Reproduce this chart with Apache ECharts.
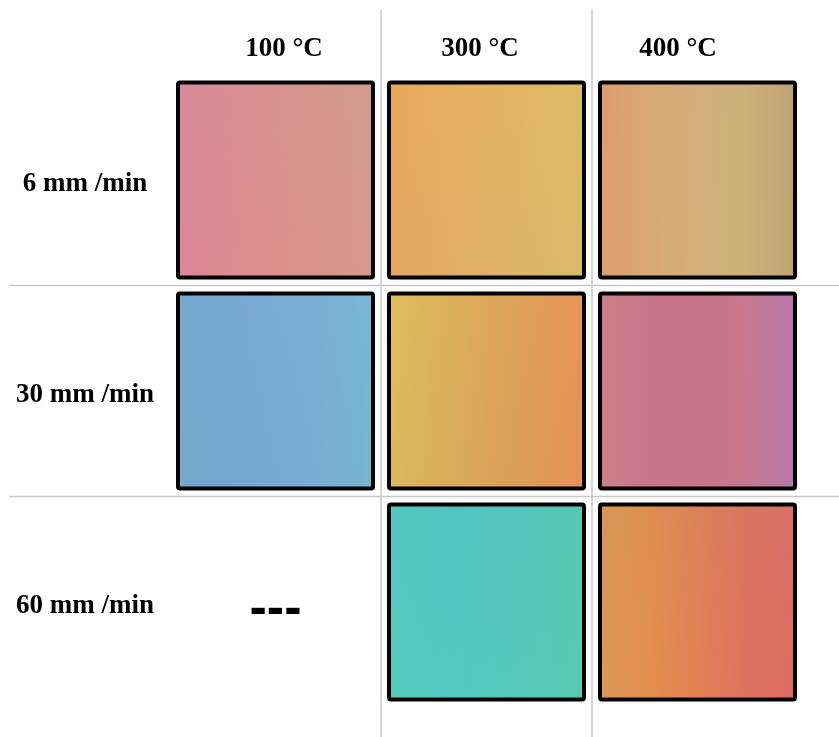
<!DOCTYPE html>
<html>
<head>
<meta charset="utf-8">
<script src="https://cdn.jsdelivr.net/npm/echarts@6/dist/echarts.min.js"></script>
<style>
html,body{margin:0;padding:0;background:#fff;}
#chart{width:839px;height:737px;}
</style>
</head>
<body>
<div id="chart"></div>
<script>
// ---- data ----
const temperatures = ['100 °C', '300 °C', '400 °C'];
const speeds = ['6 mm /min', '30 mm /min', '60 mm /min'];

// samples that exist (temperature, speed)
const sampleTemps  = ['100 °C', '300 °C', '400 °C', '100 °C', '300 °C', '400 °C', '300 °C', '400 °C'];
const sampleSpeeds = ['6 mm /min', '6 mm /min', '6 mm /min', '30 mm /min', '30 mm /min', '30 mm /min', '60 mm /min', '60 mm /min'];

// observed colour of each sample, left -> right
const sampleColors = [
  ['#D88799', '#DB8E8F', '#D8958A', '#D49E88'],
  ['#E7A55E', '#E3AD62', '#DFB566', '#D9BE68'],
  ['#DF9A72', '#D8A876', '#D2B07D', '#CDB17B', '#BDA375'],
  ['#74A8CC', '#78A8D1', '#7AADD4', '#78B8D2'],
  ['#DDBD5E', '#D9AD5A', '#DE9C58', '#E88E58'],
  ['#CC808A', '#C9768A', '#C8748B', '#C8788F', '#B878B0'],
  ['#55CABE', '#54C6C2', '#56C7BC', '#58C9AE'],
  ['#DB9A58', '#E2904F', '#E07E58', '#DC6E62', '#DA6668']
];
// observed tint of each sample, top -> bottom
const sampleTints = [
  ['rgba(200,150,165,0.15)', 'rgba(235,130,140,0.15)'],
  ['rgba(240,180,90,0.2)', 'rgba(215,175,110,0.2)'],
  ['rgba(215,165,110,0.1)', 'rgba(225,170,110,0.1)'],
  ['rgba(128,178,222,0.15)', 'rgba(110,165,200,0.15)'],
  ['rgba(230,190,90,0.15)', 'rgba(210,160,90,0.15)'],
  ['rgba(200,120,140,0.05)', 'rgba(195,115,140,0.05)'],
  ['rgba(75,190,190,0.2)', 'rgba(85,210,190,0.2)'],
  ['rgba(205,140,95,0.25)', 'rgba(240,140,70,0.15)']
];

// combinations without a sample
const missingTemps = ['100 °C'];
const missingSpeeds = ['60 mm /min'];
const missingMark = '---';

// ---- styles ----
const labelFont = { fontFamily: 'Liberation Serif', fontWeight: 'bold', fontSize: 27, color: '#000' };
const headerPads = [[0, 0, 0, 17], [0, 13, 0, 0], [0, 39, 0, 0]];
const lineColor = '#C9C9C9';

const chart = echarts.init(document.getElementById('chart'), null, { renderer: 'canvas' });

const rich = {};
headerPads.forEach((p, i) => { rich['t' + i] = Object.assign({ padding: p }, labelFont); });
const rowRich = { s: Object.assign({ padding: [8, 0, 0, 0] }, labelFont) };

function stopsOf(colors) {
  return colors.map((c, i) => ({ offset: i / (colors.length - 1), color: c }));
}

const option = {
  backgroundColor: '#fff',
  animation: false,
  grid: { left: 170, right: 36, top: 74.5, bottom: 29.5 },
  xAxis: {
    type: 'category',
    data: temperatures,
    position: 'top',
    axisLine: { show: false },
    axisTick: { show: false },
    splitLine: { show: false },
    axisLabel: Object.assign({
      margin: 12,
      formatter: (v, i) => '{t' + i + '|' + v + '}',
      rich: rich
    }, labelFont)
  },
  yAxis: {
    type: 'category',
    data: speeds,
    inverse: true,
    axisLine: { show: false },
    axisTick: { show: false },
    splitLine: { show: false },
    axisLabel: Object.assign({
      align: 'center', margin: 85,
      formatter: v => '{s|' + v + '}',
      rich: rowRich
    }, labelFont)
  },
  series: [
    {
      name: 'column separators',
      type: 'custom',
      z: 1,
      silent: true,
      data: temperatures.slice(1).map(t => [t, speeds[0]]),
      renderItem: (params, api) => {
        const c = api.coord([api.value(0), api.value(1)]);
        const x = c[0] - api.size([1, 1])[0] / 2;
        return { type: 'line', shape: { x1: x, y1: 10, x2: x, y2: api.getHeight() },
                 style: { stroke: lineColor, lineWidth: 1.5 } };
      }
    },
    {
      name: 'row separators',
      type: 'custom',
      z: 1,
      silent: true,
      data: speeds.slice(1).map(s => [temperatures[0], s]),
      renderItem: (params, api) => {
        const c = api.coord([api.value(0), api.value(1)]);
        const y = c[1] - api.size([1, 1])[1] / 2;
        return { type: 'line', shape: { x1: 9, y1: y, x2: api.getWidth(), y2: y },
                 style: { stroke: lineColor, lineWidth: 1.5 } };
      }
    },
    {
      name: 'samples',
      type: 'custom',
      z: 2,
      data: sampleTemps.map((t, i) => [t, sampleSpeeds[i]]),
      renderItem: (params, api) => {
        const c = api.coord([api.value(0), api.value(1)]);
        const band = api.size([1, 1]);
        const s = band[0] - 16;
        const x = c[0] - s / 2, y = c[1] - s / 2;
        const i = params.dataIndex;
        return {
          type: 'group',
          children: [
            { type: 'rect', shape: { x, y, width: s, height: s },
              style: { fill: new echarts.graphic.LinearGradient(0, 0, 1, 0, stopsOf(sampleColors[i])) } },
            { type: 'rect', shape: { x, y, width: s, height: s },
              style: { fill: new echarts.graphic.LinearGradient(0, 0, 0, 1, stopsOf(sampleTints[i])) } },
            { type: 'rect', shape: { x, y, width: s, height: s, r: 2 },
              style: { fill: 'none', stroke: '#000', lineWidth: 4 } }
          ]
        };
      }
    },
    {
      name: 'no sample',
      type: 'custom',
      z: 2,
      data: missingTemps.map((t, i) => [t, missingSpeeds[i]]),
      renderItem: (params, api) => {
        const c = api.coord([api.value(0), api.value(1)]);
        return { type: 'text', x: c[0], y: c[1] + 8,
                 style: { text: missingMark, fontFamily: 'Liberation Sans', fontWeight: 'bold', fontSize: 52,
                          fill: '#000', align: 'center', verticalAlign: 'middle' } };
      }
    }
  ]
};
chart.setOption(option);
</script>
</body>
</html>
